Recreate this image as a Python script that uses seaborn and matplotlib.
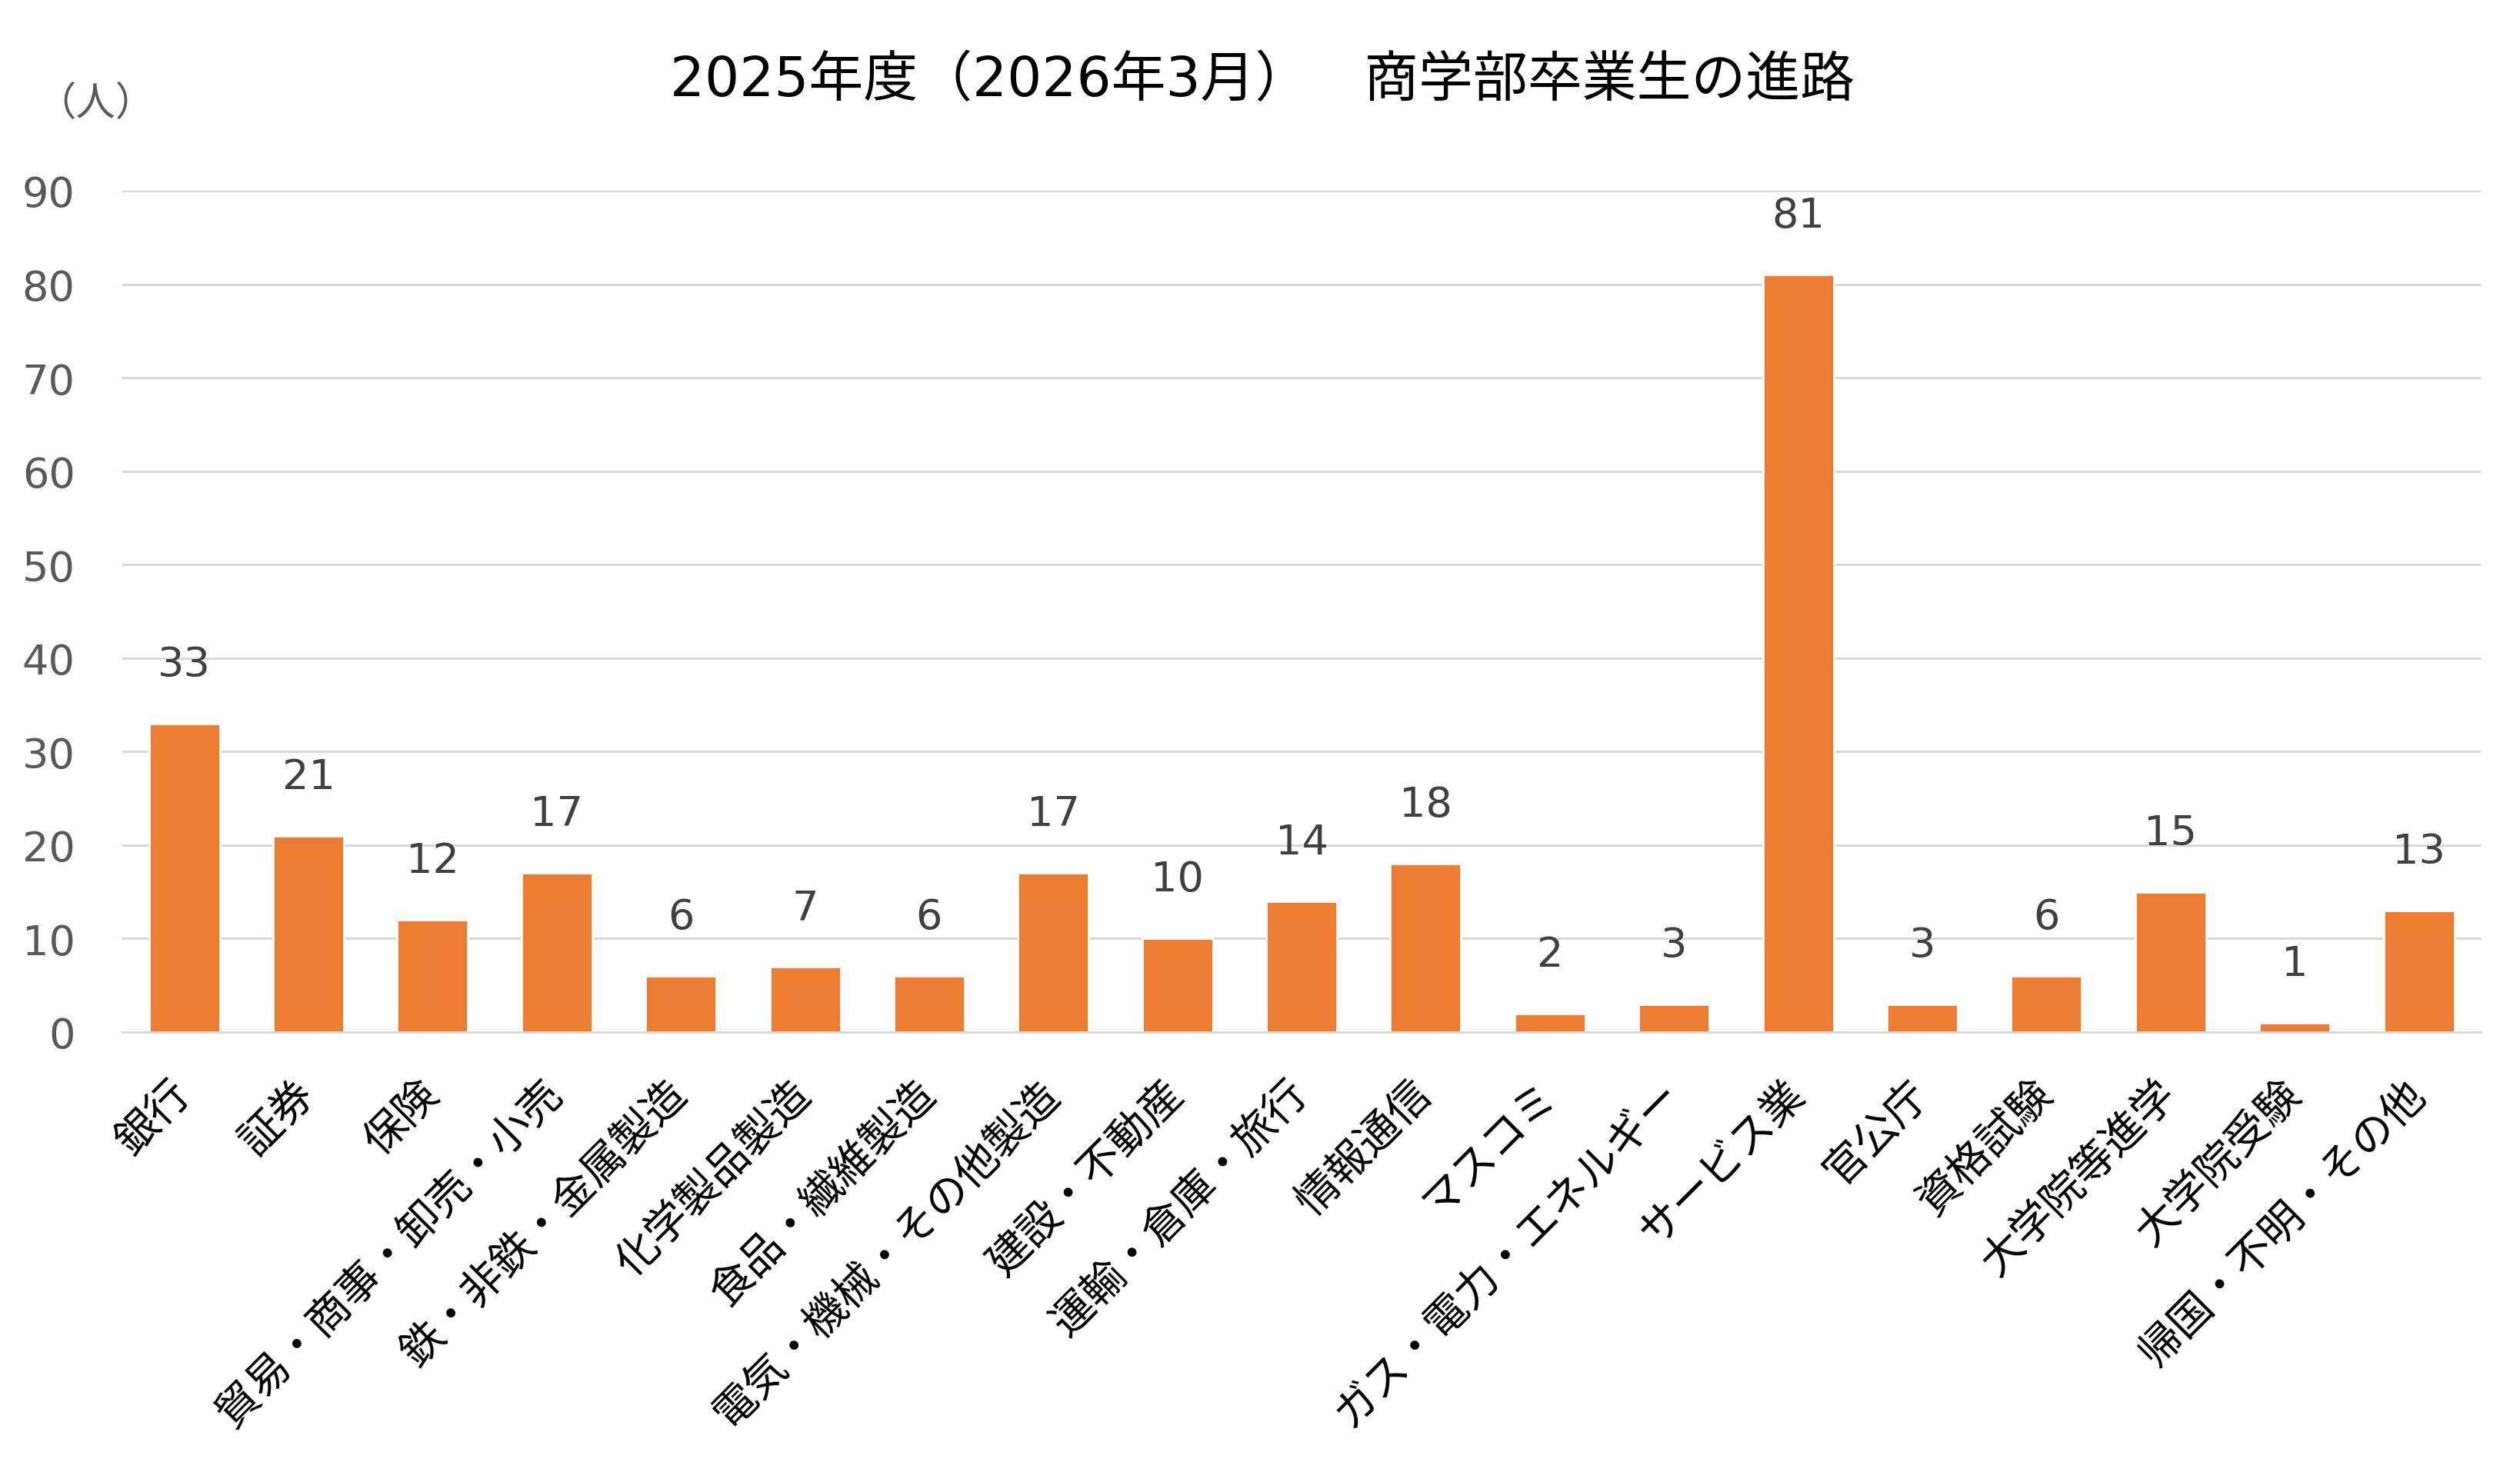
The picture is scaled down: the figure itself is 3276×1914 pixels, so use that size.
import pandas as pd
import seaborn as sns
import matplotlib.pyplot as plt

categories = ['銀行', '証券', '保険', '貿易・商事・卸売・小売', '鉄・非鉄・金属製造',
              '化学製品製造', '食品・繊維製造', '電気・機械・その他製造', '建設・不動産',
              '運輸・倉庫・旅行', '情報通信', 'マスコミ', 'ガス・電力・エネルギー',
              'サービス業', '官公庁', '資格試験', '大学院等進学', '大学院受験',
              '帰国・不明・その他']
counts = [33, 21, 12, 17, 6, 7, 6, 17, 10, 14, 18, 2, 3, 81, 3, 6, 15, 1, 13]
yticks = [0, 10, 20, 30, 40, 50, 60, 70, 80, 90]

df = pd.DataFrame({'category': categories, 'count': counts})

sns.set_style('white')
plt.rcParams['font.family'] = ['DejaVu Sans', 'Noto Sans CJK JP']

fig = plt.figure(figsize=(16.38, 9.575), dpi=200)
ax = fig.add_axes([0.0485, 0.2987, 0.936, 0.5713])

sns.barplot(data=df, x='category', y='count', color='#ED7D31', width=0.57,
            saturation=1, ax=ax)

ax.set_ylim(0, 90)
ax.set_yticks(yticks)
ax.yaxis.grid(True, color='#D9D9D9', linewidth=1.1)
ax.set_axisbelow(True)
for s in ['top', 'right', 'left']:
    ax.spines[s].set_visible(False)
ax.spines['bottom'].set_color('#D9D9D9')
ax.spines['bottom'].set_linewidth(1.1)
ax.set_xlim(-0.5, len(categories) - 0.5)
ax.set_xlabel('')
ax.set_ylabel('')

ax.tick_params(axis='y', length=0, pad=22, labelsize=19.5, labelcolor='#595959')
ax.tick_params(axis='x', length=0, pad=26)
ax.set_xticks(range(len(categories)))
ax.set_xticklabels(categories, rotation=45, ha='right', va='center',
                   rotation_mode='anchor', fontsize=20, color='#000000')

for i, v in enumerate(counts):
    ax.annotate(str(v), (i, v), xytext=(0, 27.7), textcoords='offset points',
                ha='center', va='center', fontsize=19.5, color='#404040')

# 全角スペースは少し広いので、タイトルは中央より少し右寄せ
fig.text(0.501, 0.945, '2025年度（2026年3月）　商学部卒業生の進路',
         ha='center', va='center', fontsize=25.5, color='#000000')
fig.text(0.038, 0.929, '（人）', ha='center', va='center', fontsize=18.5,
         color='#595959')

fig.savefig('out.png', dpi=200)
